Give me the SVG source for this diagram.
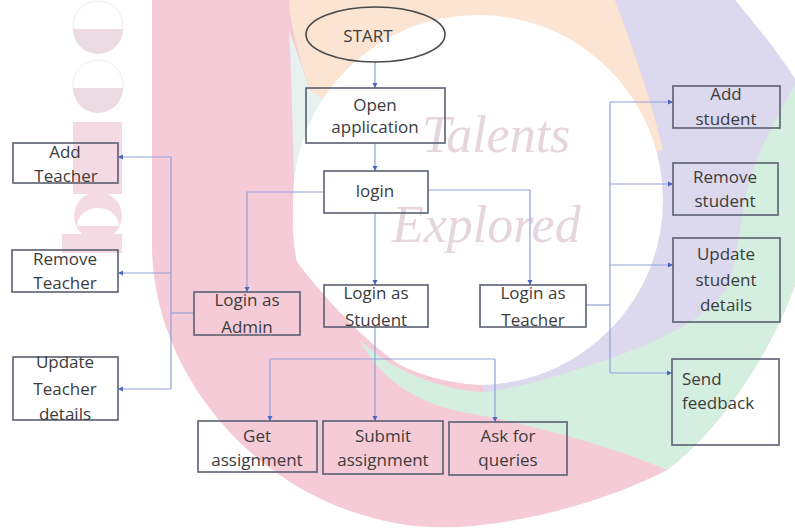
<svg xmlns="http://www.w3.org/2000/svg" width="795" height="528" viewBox="0 0 795 528">
<defs>
<style>
.box{fill:none;stroke:#5a5f70;stroke-width:1.6}
.t{font-family:"Open Sans","Noto Sans",sans-serif;font-size:17px;fill:#3c3c3c;text-anchor:middle}
.tl{font-family:"Open Sans","Noto Sans",sans-serif;font-size:17px;fill:#3c3c3c;text-anchor:start}
.c{fill:none;stroke:#93a0d8;stroke-width:1.2}
.wm{font-family:"Liberation Serif",serif;font-style:italic;font-size:52px;fill:#e6d5dd}
</style>
<marker id="ah" markerWidth="6" markerHeight="6" refX="5" refY="3" orient="auto" markerUnits="userSpaceOnUse">
<path d="M0,0.5 L5,3 L0,5.5 Z" fill="#4a66c0"/>
</marker>
</defs>
<rect width="795" height="528" fill="#ffffff"/>
<g id="background">
<path d="M152,0 L152,250 C155,350 215,430 277,473 C320,505 380,525 430,527 C500,530 600,505 667,470 C720,430 775,350 800,270 L800,110 C780,65 760,30 735,0 Z" fill="#f6cbd8"/>
<path d="M289,30 C293,100 293,180 297,262 L478,200 L310,90 Z" fill="#e6f1f0"/>
<path d="M289,0 L615,0 C632,45 650,95 663,150 L478,200 L310,90 C300,60 291,30 289,0 Z" fill="#fbe4d2"/>
<path d="M615,0 L735,0 C760,30 780,55 797,82 C780,110 752,160 745,200 C738,240 735,265 728,285 C710,320 650,345 600,362 C560,375 520,388 483,392 L478,200 L663,150 C650,95 632,45 615,0 Z" fill="#dcd8ee"/>
<path d="M797,82 C780,110 752,160 745,200 C738,240 735,265 728,285 C710,320 650,345 600,362 C560,375 520,388 483,392 C440,390 390,370 360,340 C380,380 420,405 467,413 C520,422 610,445 667,470 C720,430 775,350 800,270 L800,82 Z" fill="#d4eee0"/>
<path d="M297,262 C292,240 293,220 293,200 A185,185 0 0 1 663,200 A185,185 0 0 1 483,385 C450,384 420,375 400,365 C370,345 330,305 297,262 Z" fill="#ffffff"/>
<circle cx="98" cy="26" r="25" fill="#ffffff" stroke="#f2eef0" stroke-width="1"/>
<path d="M73,29 A25,25 0 0 0 123,29 Z" fill="#ebdbe3"/>
<circle cx="98" cy="85" r="25" fill="#ffffff" stroke="#f2eef0" stroke-width="1"/>
<path d="M73,88 A25,25 0 0 0 123,88 Z" fill="#eddbe3"/>
<rect x="73" y="122" width="49" height="72" fill="#f4dbe3"/>
<circle cx="98" cy="216" r="24" fill="#f4dbe3"/>
<path d="M77,226 A21,18 0 0 1 119,226 Z" fill="#ffffff"/>
<rect x="62" y="234" width="60" height="19" fill="#f4dbe3"/>
<text class="wm" x="422" y="152">Talents</text>
<text class="wm" x="392" y="242">Explored</text>
</g>
<g id="connectors">
<path class="c" d="M375,62 L375,88" marker-end="url(#ah)"/>
<path class="c" d="M375,143 L375,171" marker-end="url(#ah)"/>
<path class="c" d="M324,192 L247,192 L247,292" marker-end="url(#ah)"/>
<path class="c" d="M375,213 L375,285" marker-end="url(#ah)"/>
<path class="c" d="M428,190 L530,190 L530,285" marker-end="url(#ah)"/>
<path class="c" d="M194,313 L171,313"/>
<path class="c" d="M171,157 L171,389"/>
<path class="c" d="M171,157 L118,157" marker-end="url(#ah)"/>
<path class="c" d="M171,273 L118,273" marker-end="url(#ah)"/>
<path class="c" d="M171,389 L118,389" marker-end="url(#ah)"/>
<path class="c" d="M375,327 L375,421" marker-end="url(#ah)"/>
<path class="c" d="M270,359 L495,359"/>
<path class="c" d="M270,359 L270,421" marker-end="url(#ah)"/>
<path class="c" d="M495,359 L495,422" marker-end="url(#ah)"/>
<path class="c" d="M586,305 L610,305"/>
<path class="c" d="M610,102 L610,373"/>
<path class="c" d="M610,102 L673,102" marker-end="url(#ah)"/>
<path class="c" d="M610,184 L673,184" marker-end="url(#ah)"/>
<path class="c" d="M610,265 L673,265" marker-end="url(#ah)"/>
<path class="c" d="M610,373 L672,373" marker-end="url(#ah)"/>
</g>
<g id="start"><ellipse cx="375.5" cy="34.5" rx="69.5" ry="27.5" fill="none" stroke="#4a4a4a" stroke-width="1.6"/><text class="t" x="368" y="42">START</text></g>
<g id="open"><rect class="box" x="306" y="88" width="139" height="55"/><text class="t" x="375" y="111">Open</text><text class="t" x="375" y="133">application</text></g>
<g id="login"><rect class="box" x="324" y="171" width="104" height="42"/><text class="t" x="375" y="197">login</text></g>
<g id="admin"><rect class="box" x="194" y="292" width="106" height="43"/><text class="t" x="247" y="306">Login as</text><text class="t" x="247" y="333">Admin</text></g>
<g id="student"><rect class="box" x="324" y="285" width="104" height="42"/><text class="t" x="376" y="299">Login as</text><text class="t" x="376" y="326">Student</text></g>
<g id="teacher"><rect class="box" x="480" y="285" width="106" height="42"/><text class="t" x="533" y="299">Login as</text><text class="t" x="533" y="326">Teacher</text></g>
<g id="addTeacher"><rect class="box" x="13" y="143" width="105" height="40"/><text class="t" x="65" y="158">Add</text><text class="t" x="66" y="182">Teacher</text></g>
<g id="removeTeacher"><rect class="box" x="12" y="250" width="106" height="42"/><text class="t" x="65" y="265">Remove</text><text class="t" x="65" y="289">Teacher</text></g>
<g id="updateTeacher"><rect class="box" x="13" y="357" width="105" height="63"/><text class="t" x="65" y="368">Update</text><text class="t" x="65" y="395">Teacher</text><text class="t" x="65" y="420">details</text></g>
<g id="getAssignment"><rect class="box" x="198" y="421" width="119" height="51"/><text class="t" x="257" y="442">Get</text><text class="t" x="257" y="466">assignment</text></g>
<g id="submitAssignment"><rect class="box" x="323" y="421" width="120" height="53"/><text class="t" x="383" y="442">Submit</text><text class="t" x="383" y="466">assignment</text></g>
<g id="askQueries"><rect class="box" x="449" y="422" width="118" height="53"/><text class="t" x="508" y="442">Ask for</text><text class="t" x="508" y="466">queries</text></g>
<g id="addStudent"><rect class="box" x="673" y="86" width="107" height="42"/><text class="t" x="726" y="100">Add</text><text class="t" x="726" y="125">student</text></g>
<g id="removeStudent"><rect class="box" x="673" y="163" width="105" height="52"/><text class="t" x="725" y="183">Remove</text><text class="t" x="725" y="207">student</text></g>
<g id="updateStudent"><rect class="box" x="673" y="238" width="107" height="84"/><text class="t" x="726" y="260">Update</text><text class="t" x="726" y="286">student</text><text class="t" x="726" y="311">details</text></g>
<g id="sendFeedback"><rect class="box" x="672" y="359" width="107" height="86"/><text class="tl" x="682" y="385">Send</text><text class="tl" x="682" y="409">feedback</text></g>
</svg>
